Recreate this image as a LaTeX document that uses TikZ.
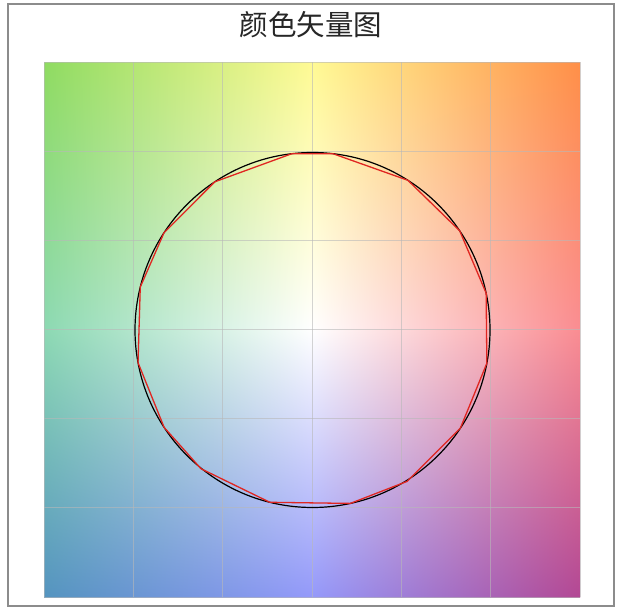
\documentclass[tikz,border=0pt]{standalone}
\usepackage{fontspec}
\newfontfamily\cjk{Noto Sans CJK SC}
% ---- piecewise bilinear colour map through a 3x3 grid of colours ----
\def\mkchan#1#2#3#4#5#6#7#8#9{%  TL TC TR ML MC MR BL BC BR
  \pgfmathsetmacro\tz{#2}\pgfmathsetmacro\ta{((#3)-(#1))/2}\pgfmathsetmacro\tb{((#3)+(#1))/2-(#2)}%
  \pgfmathsetmacro\mz{#5}\pgfmathsetmacro\ma{((#6)-(#4))/2}\pgfmathsetmacro\mb{((#6)+(#4))/2-(#5)}%
  \pgfmathsetmacro\bz{#8}\pgfmathsetmacro\ba{((#9)-(#7))/2}\pgfmathsetmacro\bb{((#9)+(#7))/2-(#8)}%
  \pgfmathsetmacro\Aoo{\mz}\pgfmathsetmacro\Aoa{((\tz)-(\bz))/2}\pgfmathsetmacro\Aob{((\tz)+(\bz))/2-(\mz)}%
  \pgfmathsetmacro\Aao{\ma}\pgfmathsetmacro\Aaa{((\ta)-(\ba))/2}\pgfmathsetmacro\Aab{((\ta)+(\ba))/2-(\ma)}%
  \pgfmathsetmacro\Abo{\mb}\pgfmathsetmacro\Aba{((\tb)-(\bb))/2}\pgfmathsetmacro\Abb{((\tb)+(\bb))/2-(\mb)}%
}
% f = (A02 + A12 u + A22|u|)|v| + (A01 + A11 u + A21|u|) v + (A00 + A10 u + A20|u|)
\def\chancode#1#2{#1 index dup abs \Abb\space mul exch \Aab\space mul add \Aob\space add #1 index abs mul #2 index dup abs \Aba\space mul exch \Aaa\space mul add \Aoa\space add #2 index mul add #2 index dup abs \Abo\space mul exch \Aao\space mul add \Aoo\space add add\space}
% red
\mkchan{0.56}{1.00}{1.00}{0.55}{1.00}{0.98}{0.33}{0.58}{0.70}
\edef\fr{\chancode{1}{2}}
% green
\mkchan{0.86}{0.98}{0.56}{0.85}{1.00}{0.55}{0.58}{0.60}{0.28}
\edef\fg{\chancode{2}{3}}
% blue
\mkchan{0.38}{0.58}{0.28}{0.70}{1.00}{0.57}{0.75}{0.98}{0.58}
\edef\fb{\chancode{3}{4}}
\edef\ffull{25 div exch 25 div exch \fr\fg\fb 5 3 roll pop pop}
\def\declshade#1{\pgfdeclarefunctionalshading{colormap}{\pgfpoint{-25bp}{-25bp}}{\pgfpoint{25bp}{25bp}}{}{#1}}
\expandafter\declshade\expandafter{\ffull}
\definecolor{framegray}{gray}{0.55}
\definecolor{gridgray}{gray}{0.72}
\definecolor{polyred}{rgb}{0.88,0.15,0.13}
\definecolor{titlegray}{gray}{0.15}
\tikzset{
  frame/.style={draw=framegray,line width=1.2pt},
  gridline/.style={draw=gridgray,line width=0.8pt,opacity=0.6},
  circ/.style={draw=black,line width=1.2pt},
  redpoly/.style={draw=polyred,line width=1.3pt,line join=round},
  titlestyle/.style={font=\cjk\fontsize{28.5}{31}\selectfont,text=titlegray,inner sep=0pt}
}
\begin{document}
\begin{tikzpicture}[x=1pt,y=1pt]
\useasboundingbox (0,0) rectangle (617,607);
\fill[white] (0,0) rectangle (617,607);
\draw[frame] (8,1) rectangle (614,603);
\node[titlestyle] (title) at (311,582) {颜色矢量图};
\shade[shading=colormap] (44,10) rectangle (580,545);
\foreach \i in {0,...,6}{
  \draw[gridline] ({44+\i*536/6},10) -- ({44+\i*536/6},545);
  \draw[gridline] (44,{10+\i*535/6}) -- (580,{10+\i*535/6});
}
\draw[circ] (312.5,277) circle[radius=177.5];
\begin{scope}[shift={(312.5,277)}]
\draw[redpoly] (83.4:177.5) -- (57.5:177.5) -- (34:177.5) -- (12:177.5) -- (-10.8:177.5)
  -- (-33.6:177.5) -- (-58:178.5) -- (-77.7:177.5) -- (-103.9:177.5) -- (-128.8:178)
  -- (-146.7:177.5) -- (-169.4:177.5) -- (166:177.5) -- (146.8:177.5) -- (123.4:177.5)
  -- (96.7:177.5) -- cycle;
\end{scope}
\end{tikzpicture}
\end{document}
